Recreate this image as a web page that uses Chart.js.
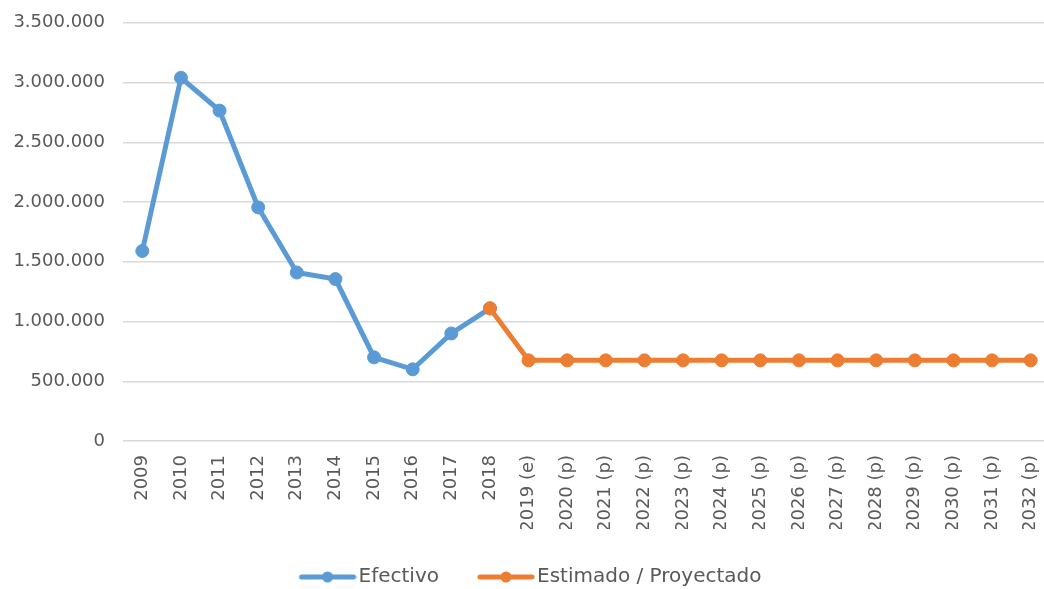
<!DOCTYPE html>
<html>
<head>
<meta charset="utf-8">
<script src="https://cdn.jsdelivr.net/npm/chart.js@4"></script>
<style>
  html, body { margin: 0; padding: 0; background: #fff; overflow: hidden; }
  #wrap { width: 1080px; height: 595px; position: relative; top: -6px; }
</style>
</head>
<body>
<div id="wrap"><canvas id="lineChart"></canvas></div>
<script>
// --- chart data ---
const years = ['2009', '2010', '2011', '2012', '2013', '2014', '2015', '2016', '2017', '2018',
  '2019 (e)', '2020 (p)', '2021 (p)', '2022 (p)', '2023 (p)', '2024 (p)', '2025 (p)',
  '2026 (p)', '2027 (p)', '2028 (p)', '2029 (p)', '2030 (p)', '2031 (p)', '2032 (p)'];
const efectivo = [1590000, 3040000, 2765000, 1955000, 1410000, 1355000, 700000, 600000, 900000, 1110000,
  null, null, null, null, null, null, null, null, null, null, null, null, null, null];
const estimado = [null, null, null, null, null, null, null, null, null, 1110000,
  675000, 675000, 675000, 675000, 675000, 675000, 675000, 675000, 675000, 675000, 675000, 675000, 675000, 675000];
const yTicks = [0, 500000, 1000000, 1500000, 2000000, 2500000, 3000000, 3500000];

const BLUE = '#5B9BD5';
const ORANGE = '#ED7D31';
const TEXT = '#595959';
const FONT = "'DejaVu Sans', sans-serif";

// thousands with dots, like the source
function fmt(v) {
    return String(v).replace(/\B(?=(\d{3})+(?!\d))/g, '.');
}

// legend marker: line with a dot in the middle (shifted right so the text sits close)
function legendMarker(color) {
    const c = document.createElement('canvas');
    c.width = 66; c.height = 14;
    const g = c.getContext('2d');
    g.strokeStyle = color;
    g.lineWidth = 5;
    g.lineCap = 'round';
    g.beginPath(); g.moveTo(11, 7); g.lineTo(63, 7); g.stroke();
    g.fillStyle = color;
    g.beginPath(); g.arc(37, 7, 5.5, 0, Math.PI * 2); g.fill();
    return c;
}

const markers = [legendMarker(BLUE), legendMarker(ORANGE)];

function lineSet(label, data, color) {
    return {
        label: label,
        data: data,
        borderColor: color,
        backgroundColor: color,
        pointBackgroundColor: color,
        pointBorderColor: color,
        borderWidth: 5,
        pointRadius: 6.5,
        pointBorderWidth: 1,
        tension: 0,
        fill: false
    };
}

const ctx = document.getElementById('lineChart').getContext('2d');

new Chart(ctx, {
    type: 'line',
    data: {
        labels: years,
        // orange first so its 2018 point sits above the blue one
        datasets: [
            lineSet('Estimado / Proyectado', estimado, ORANGE),
            lineSet('Efectivo', efectivo, BLUE)
        ]
    },
    options: {
        responsive: true,
        maintainAspectRatio: false,
        animation: false,
        layout: { padding: { left: 10, right: 30, top: 0, bottom: -8 } },
        scales: {
            x: {
                offset: true,
                grid: { display: false, drawTicks: false },
                border: { display: false },
                afterFit: (scale) => { scale.height = 88; },
                ticks: {
                    color: TEXT,
                    font: { family: FONT, size: 18 },
                    minRotation: 90,
                    maxRotation: 90,
                    padding: 14,
                    autoSkip: false
                }
            },
            y: {
                min: 0,
                max: 3500000,
                afterBuildTicks: (scale) => { scale.ticks = yTicks.map(v => ({ value: v })); },
                afterFit: (scale) => { scale.width = 113; },
                grid: { color: '#D9D9D9', lineWidth: 1.5, drawTicks: false },
                border: { display: false },
                ticks: {
                    color: TEXT,
                    font: { family: FONT, size: 18 },
                    padding: 18,
                    callback: (v) => fmt(v)
                }
            }
        },
        plugins: {
            legend: {
                position: 'bottom',
                labels: {
                    color: TEXT,
                    font: { family: FONT, size: 20 },
                    usePointStyle: true,
                    pointStyleWidth: 50,
                    padding: 38,
                    sort: (a, b) => b.datasetIndex - a.datasetIndex,
                    generateLabels: (chart) => chart.data.datasets.map((ds, i) => ({
                        text: ds.label,
                        fillStyle: ds.borderColor,
                        strokeStyle: ds.borderColor,
                        fontColor: TEXT,
                        lineWidth: 0,
                        pointStyle: markers[i === 0 ? 1 : 0],
                        hidden: false,
                        datasetIndex: i
                    }))
                }
            },
            tooltip: { enabled: false }
        }
    }
});
</script>
</body>
</html>
